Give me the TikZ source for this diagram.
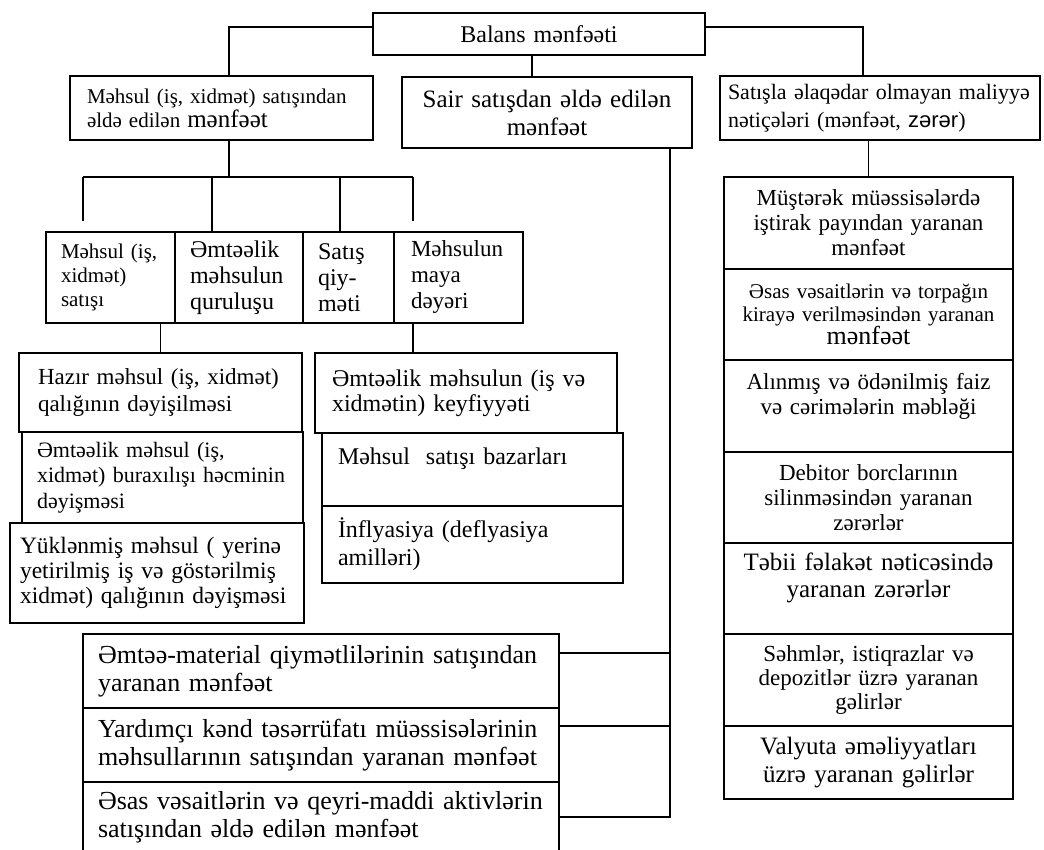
\documentclass[tikz,border=0pt]{standalone}
\usepackage{fontspec}
\setmainfont{Liberation Serif}
\newfontfamily\zrfont{Liberation Sans}
\usetikzlibrary{positioning}
\newcommand\fsz[2]{\fontsize{#1}{#2}\selectfont}

\begin{document}
\begin{tikzpicture}[
  x=1pt, y=-1pt,
  box/.style={draw, line width=1.4pt, anchor=north west,
              outer sep=0pt, inner ysep=0pt},
  cbox/.style={box, align=center, inner xsep=6pt},
  lbox/.style={box, align=left},
  conn/.style={line width=1.4pt}
]
\useasboundingbox (0,0) rectangle (1044,850);

%--- Top level ---
\node[cbox, text width=320pt, minimum height=42pt, font=\fsz{24}{27}]
      (bal)  at (373,13) {Balans mənfəəti};
\node[lbox, inner xsep=17pt, text width=269pt, minimum height=64pt, font=\fsz{21}{24}]
      (mhs)  at (70,76)  {Məhsul (iş, xidmət) satışından\\əldə edilən {\fsz{25}{24}mənfəət}};
\node[cbox, text width=278pt, minimum height=71pt, font=\fsz{25}{28}]
      (sair) at (402,77) {Sair satışdan əldə edilən\\mənfəət};
\node[lbox, inner xsep=8pt, text width=304pt, minimum height=64pt, font=\fsz{22}{28}]
      (fin)  at (720,76) {Satışla əlaqədar olmayan maliyyə\\nətiçələri (mənfəət, {\zrfont zərər})};

%--- Factor row ---
\node[lbox, inner xsep=15pt, text width=99pt, minimum height=91pt, font=\fsz{21}{24}]
      (s1) at (46,232)  {Məhsul (iş,\\xidmət)\\satışı};
\node[lbox, inner xsep=15pt, text width=98pt, minimum height=91pt, font=\fsz{24}{26}]
      (s2) at (175,232) {Əmtəəlik\\məhsulun\\quruluşu};
\node[lbox, inner xsep=15pt, text width=61pt, minimum height=91pt, font=\fsz{24}{26}]
      (s3) at (303,232) {Satış\\qiy-\\məti};
\node[lbox, inner xsep=17pt, text width=95pt, minimum height=91pt, font=\fsz{23}{26}]
      (s4) at (394,232) {Məhsulun\\maya\\dəyəri};

%--- Under sales volume ---
\node[lbox, inner xsep=19pt, text width=245pt, minimum height=79pt, font=\fsz{23}{27}]
      (h1) at (19,353) {Hazır məhsul (iş, xidmət)\\qalığının dəyişilməsi};
\node[lbox, inner xsep=15pt, text width=251pt, minimum height=91pt, font=\fsz{22}{25.5}]
      (h2) at (22,432) {Əmtəəlik məhsul (iş,\\xidmət) buraxılışı həcminin\\dəyişməsi};
\node[lbox, inner xsep=10pt, text width=274pt, minimum height=100pt, font=\fsz{23.5}{25}]
      (h3) at (10,523) {Yüklənmiş məhsul ( yerinə\\yetirilmiş iş və göstərilmiş\\xidmət) qalığının dəyişməsi};

%--- Under cost ---
\node[lbox, inner xsep=17pt, text width=268pt, minimum height=80pt, font=\fsz{24}{25}]
      (k1) at (315,353) {Əmtəəlik məhsulun (iş və\\xidmətin) keyfiyyəti};
\node[lbox, inner xsep=16pt, text width=269pt, minimum height=73pt, font=\fsz{24}{26}]
      (k2) at (322,433) {Məhsul\ \ satışı bazarları\\\mbox{}};
\node[lbox, inner xsep=16pt, text width=269pt, minimum height=77pt, font=\fsz{24}{28}]
      (k3) at (322,506) {İnflyasiya (deflyasiya\\amilləri)};

%--- Non-sales results ---
\node[cbox, text width=277pt, minimum height=92pt, font=\fsz{23}{25}]
      (r1) at (724,177) {Müştərək müəssisələrdə\\iştirak payından yaranan\\mənfəət};
\node[cbox, text width=277pt, minimum height=91pt, font=\fsz{21}{23}]
      (r2) at (724,269) {Əsas vəsaitlərin və torpağın\\kirayə verilməsindən yaranan\\{\fsz{26}{23}mənfəət}};
\node[cbox, text width=277pt, minimum height=92pt, font=\fsz{23}{25}]
      (r3) at (724,360) {Alınmış və ödənilmiş faiz\\və cərimələrin məbləği\\\mbox{}};
\node[cbox, text width=277pt, minimum height=91pt, font=\fsz{23}{25}]
      (r4) at (724,452) {Debitor borclarının\\silinməsindən yaranan\\zərərlər};
\node[cbox, text width=277pt, minimum height=91pt, font=\fsz{25}{27}]
      (r5) at (724,543) {Təbii fəlakət nəticəsində\\yaranan zərərlər\\\mbox{}};
\node[cbox, text width=277pt, minimum height=92pt, font=\fsz{23}{24}]
      (r6) at (724,634) {Səhmlər, istiqrazlar və\\depozitlər üzrə yaranan\\gəlirlər};
\node[cbox, text width=277pt, minimum height=73pt, font=\fsz{25}{28}]
      (r7) at (724,726) {Valyuta əməliyyatları\\üzrə yaranan gəlirlər};

%--- Other sales ---
\node[lbox, inner xsep=15pt, text width=446pt, minimum height=74pt, font=\fsz{26}{28}]
      (o1) at (83,634) {Əmtəə-material qiymətlilərinin satışından\\yaranan mənfəət};
\node[lbox, inner xsep=15pt, text width=446pt, minimum height=74pt, font=\fsz{26}{28}]
      (o2) at (83,708) {Yardımçı kənd təsərrüfatı müəssisələrinin\\məhsullarının satışından yaranan mənfəət};
\node[lbox, inner xsep=15pt, text width=446pt, minimum height=71pt, font=\fsz{26}{28}]
      (o3) at (83,782) {Əsas vəsaitlərin və qeyri-maddi aktivlərin\\satışından əldə edilən mənfəət};

%--- Junction points ---
\coordinate (bar)   at (229,177);
\coordinate (tap1)  at (83,177);
\coordinate (tap2)  at (212,177);
\coordinate (tap3)  at (340,177);
\coordinate (tap4)  at (413,177);
\coordinate (t1)    at (670,653);
\coordinate (t2)    at (670,726);
\coordinate (trunk) at (670,817);

%--- Connectors ---
\draw[conn] ([yshift=7pt]bal.west) -| ([xshift=7.5pt]mhs.north);
\draw[conn] ([xshift=-7pt]bal.south) -- ([xshift=-15pt]sair.north);
\draw[conn] ([yshift=7pt]bal.east) -| ([xshift=-17pt]fin.north);
\draw[conn] (fin.south -| r1.north) -- (r1.north);

\draw[conn] ([xshift=7.5pt]mhs.south) -- (bar);
\draw[conn] (tap1) -- (tap4);
\foreach \t/\b/\g in {tap1/s1/11pt, tap2/s2/0pt, tap3/s3/0pt, tap4/s4/11pt}
  \draw[conn, shorten >=\g] (\t) -- (\t |- \b.north);
\draw[conn] (h1.north |- s1.south) -- (h1.north);
\draw[conn] (tap4 |- s4.south) -- (tap4 |- k1.north);

\draw[conn] (sair.south -| trunk) -- (trunk) -- (trunk -| o3.east);
\draw[conn] (t1) -- (t1 -| o1.east);
\draw[conn] (t2) -- (t2 -| o2.east);

\end{tikzpicture}
\end{document}
